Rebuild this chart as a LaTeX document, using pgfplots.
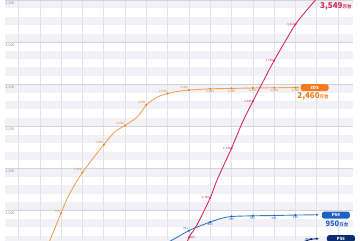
\documentclass[border=0pt]{standalone}
\usepackage{fontspec}
\setmainfont{Noto Sans CJK JP}
\usepackage{pgfplots}
\usepackage{pgfplotstable}
\pgfplotsset{compat=1.18}
\usetikzlibrary{arrows.meta}

\definecolor{bandc}{HTML}{F1F1F6}
\definecolor{vgrid}{HTML}{E2E2EA}
\definecolor{hgrid}{HTML}{D4D4DE}
\definecolor{tickc}{HTML}{8A8A95}
\definecolor{dsL}{HTML}{F2A45A}
\definecolor{dsM}{HTML}{DC8434}
\definecolor{dsB}{HTML}{F47A1F}
\definecolor{swL}{HTML}{D42C5C}
\definecolor{psL}{HTML}{3A7CC2}
\definecolor{psB}{HTML}{1D61C4}
\definecolor{ps5B}{HTML}{0B2C6E}

% cumulative units (10k), x = gridline index
\pgfplotstableread{
k v
1.40 600
2 970
2.3 1150
2.6 1290
3 1452
3.5 1620
4 1780
4.5 1930
5 2010
5.5 2095
5.8 2180
6 2255
6.5 2345
7 2390
7.5 2415
8 2430
9 2445
10 2450
11 2455
12 2458
13 2460
13.2 2460
}\dsline
\pgfplotstableread{
k v
2 970
3 1452
4 1780
5 2010
6 2255
7 2390
8 2430
}\dsmarkA
\pgfplotstableread{
k v
9 2445
10 2450
11 2455
12 2458
13 2460
}\dsmarkB

\pgfplotstableread{
k v
7.85 560
8 680
8.38 830
9 1150
9.32 1362
10 1740
10.5 2040
11 2295
11.5 2540
12 2780
12.5 3000
13 3210
13.5 3370
14 3515
14.15 3549
}\swline
\pgfplotstableread{
k v
9 1150
10 1740
11 2295
12 2780
13 3210
14 3515
}\swmark

\pgfplotstableread{
k v
7.0 620
7.5 690
8 761
8.5 815
9 863
9.5 905
10 929
11 937
12 941
13 946
14.1 950
}\psline
\pgfplotstableread{
k v
9 863
10 929
11 937
12 941
13 946
}\psmark

\tikzset{ytl/.style={anchor=north west, inner sep=0pt, text=tickc,
  font=\fontsize{3.6}{4}\selectfont, yshift=-1.2pt}}

\begin{document}
\begin{tikzpicture}
\begin{axis}[
  width=360pt, height=240pt, scale only axis,
  xmin=-0.869, xmax=16.033, ymin=650, ymax=3500,
  hide axis, clip=true, clip marker paths=true,
  /pgf/number format/1000 sep={,},
  /pgf/number format/assume math mode=true,
  every node near coord/.append style={font=\fontsize{3}{3}\selectfont, inner sep=0.7pt},
]
\coordinate (SW) at (rel axis cs:0,0);
\coordinate (NE) at (rel axis cs:1,1);

% striped background, one band per 100
\pgfplotsinvokeforeach{600,800,...,3400}{
  \fill[bandc] (axis cs:-0.634,#1) rectangle (axis cs:15.70,{#1+100});
}
\pgfplotsinvokeforeach{0,...,15}{
  \draw[vgrid, line width=0.5pt] (axis cs:#1,650) -- (axis cs:#1,3500);
}
\pgfplotsinvokeforeach{1000,1500,...,3500}{
  \draw[hgrid, line width=0.6pt] (axis cs:-0.634,#1) -- (axis cs:15.70,#1);
}
\node[ytl] at (axis cs:-0.62,1000) {1,000};
\node[ytl] at (axis cs:-0.62,1500) {1,500};
\node[ytl] at (axis cs:-0.62,2000) {2,000};
\node[ytl] at (axis cs:-0.62,2500) {2,500};
\node[ytl] at (axis cs:-0.62,3000) {3,000};
\node[ytl] at (axis cs:-0.62,3500) {3,500};

% PS5
\addplot[ps5B, line width=0.9pt, -{Latex[length=2.6pt,width=2.6pt]}]
  coordinates {(13,600) (13.75,660) (14.1,667)};
\addplot[only marks, mark=*, mark size=0.8pt, ps5B, nodes near coords,
  every node near coord/.append style={anchor=east, text=ps5B}]
  coordinates {(13.75,660)};

% PS4
\addplot[psL, line width=0.9pt, smooth, tension=0.5, -{Latex[length=2.6pt,width=2.6pt]}]
  table[x=k,y=v]{\psline};
\addplot[only marks, mark=*, mark size=0.8pt, psB, nodes near coords,
  every node near coord/.append style={anchor=north, yshift=-0.8pt, text=psB}]
  table[x=k,y=v]{\psmark};
\addplot[only marks, mark=*, mark size=0.8pt, psB, nodes near coords,
  every node near coord/.append style={anchor=south east, text=psB}]
  coordinates {(8,761)};

% 3DS
\addplot[dsL, line width=0.9pt, smooth, tension=0.5, -{Latex[length=2.6pt,width=2.6pt]}]
  table[x=k,y=v]{\dsline};
\addplot[only marks, mark=*, mark size=0.8pt, dsM, nodes near coords,
  every node near coord/.append style={anchor=south east, text=dsM}]
  table[x=k,y=v]{\dsmarkA};
\addplot[only marks, mark=*, mark size=0.8pt, dsM, nodes near coords,
  every node near coord/.append style={anchor=north, yshift=-0.8pt, text=dsM}]
  table[x=k,y=v]{\dsmarkB};

% Switch
\addplot[swL, line width=0.9pt, smooth, tension=0.5]
  table[x=k,y=v]{\swline};
\addplot[only marks, mark=*, mark size=0.8pt, swL, nodes near coords,
  every node near coord/.append style={anchor=east, text=swL}]
  table[x=k,y=v]{\swmark};
\addplot[only marks, mark=*, mark size=0.8pt, swL, nodes near coords,
  every node near coord/.append style={anchor=west, text=swL}]
  coordinates {(8,680)};

% name tags and totals
\node[fill=dsB, rounded corners=2.5pt, minimum width=28pt, minimum height=7pt, inner sep=0pt,
  text=white, font=\bfseries\fontsize{4.2}{4.2}\selectfont] at (axis cs:13.9,2460) {3DS};
\node[inner sep=0pt, text=dsB] at (axis cs:13.83,2350)
  {\fontsize{8}{8}\selectfont\bfseries 2,460\fontsize{4.5}{4.5}\selectfont 万台};

\node[fill=psB, rounded corners=2.5pt, minimum width=28pt, minimum height=7pt, inner sep=0pt,
  text=white, font=\bfseries\fontsize{4.2}{4.2}\selectfont] at (axis cs:14.9,945) {PS4};
\node[inner sep=0pt, text=psB] at (axis cs:14.95,842)
  {\fontsize{7.5}{7.5}\selectfont\bfseries 950\fontsize{4.5}{4.5}\selectfont 万台};

\node[fill=ps5B, rounded corners=2.5pt, minimum width=28pt, minimum height=7pt, inner sep=0pt,
  text=white, font=\bfseries\fontsize{4.2}{4.2}\selectfont] at (axis cs:15.14,667) {PS5};

\node[inner sep=0pt, text=swL] at (axis cs:14.9,3428)
  {\fontsize{8}{8}\selectfont\bfseries 3,549\fontsize{4.5}{4.5}\selectfont 万台};
\end{axis}
\pgfresetboundingbox
\useasboundingbox (SW) rectangle (NE);
\end{tikzpicture}
\end{document}
